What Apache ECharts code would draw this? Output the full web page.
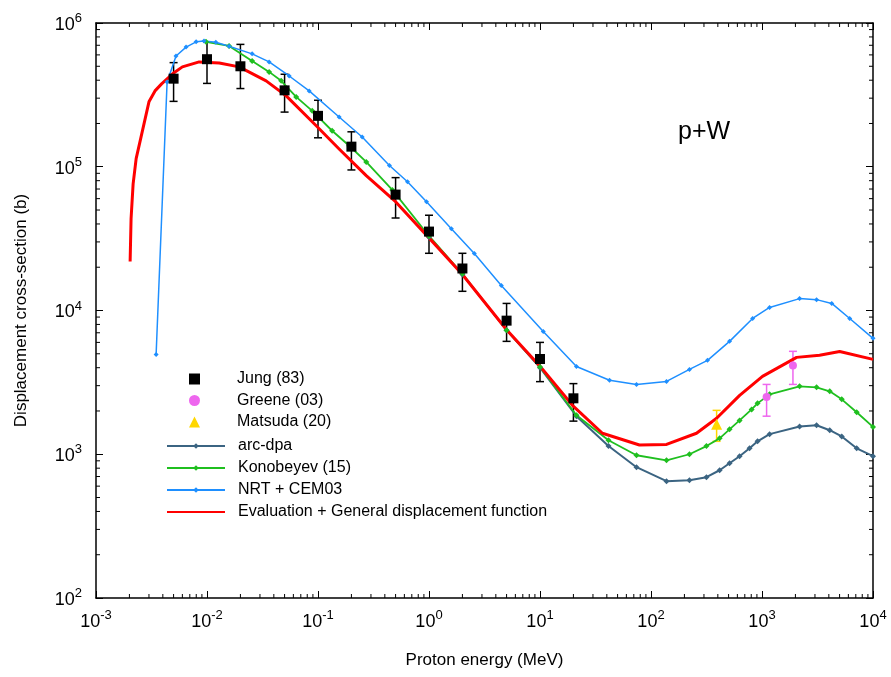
<!DOCTYPE html>
<html>
<head>
<meta charset="utf-8">
<script src="https://cdn.jsdelivr.net/npm/echarts@6/dist/echarts.min.js"></script>
<style>
  html, body { margin: 0; padding: 0; background: #fff; }
  #main { width: 891px; height: 677px; }
</style>
</head>
<body>
<div id="main"></div>
<script>
// Jung (83) measurements, with error bar limits
const jungE = [0.005, 0.01, 0.02, 0.05, 0.1, 0.2, 0.5, 1, 2, 5, 10, 20];
const jungV = [4.1e5, 5.6e5, 5.0e5, 3.4e5, 2.26e5, 1.38e5, 6.4e4, 3.54e4, 1.96e4, 8.5e3, 4.6e3, 2.45e3];
const jungLo = [2.85e5, 3.8e5, 3.5e5, 2.4e5, 1.59e5, 9.5e4, 4.4e4, 2.5e4, 1.36e4, 6.1e3, 3.2e3, 1.7e3];
const jungHi = [5.3e5, 7.4e5, 7.1e5, 4.4e5, 2.9e5, 1.75e5, 8.4e4, 4.6e4, 2.5e4, 1.12e4, 6.0e3, 3.1e3];

// Greene (03)
const greeneE = [1100, 1900];
const greeneV = [2.5e3, 4.15e3];
const greeneLo = [1.84e3, 3.06e3];
const greeneHi = [3.06e3, 5.2e3];

// Matsuda (20)
const matsudaE = [390];
const matsudaV = [1.62e3];
const matsudaLo = [1.23e3];
const matsudaHi = [2.02e3];

// arc-dpa
const arcE = [1, 2, 5, 10, 21.3, 41.4, 74, 138, 222, 316, 415, 510, 628, 773, 912, 1170, 2180, 3100, 4075, 5230, 7130, 10000];
const arcV = [3.25e4, 1.78e4, 7.3e3, 4.0e3, 1.84e3, 1.14e3, 813, 650, 660, 692, 774, 866, 969, 1100, 1230, 1380, 1560, 1590, 1470, 1330, 1100, 969];

// Konobeyev (15)
const konoE = [0.0098, 0.0158, 0.0255, 0.0363, 0.0466, 0.0636, 0.0887, 0.134, 0.191, 0.272,
  0.467, 1, 2, 5, 10, 21.3, 41.4, 74, 138, 222,
  316, 415, 510, 628, 806, 912, 1170, 2180, 3100, 4075,
  5230, 7130, 10000];
const konoV = [7.4e5, 6.92e5, 5.44e5, 4.57e5, 3.96e5, 3.06e5, 2.45e5, 1.78e5, 1.4e5, 1.08e5,
  6.9e4, 3.3e4, 1.8e4, 7.3e3, 4.05e3, 1.87e3, 1.25e3, 984, 908, 1000,
  1140, 1290, 1490, 1720, 2050, 2260, 2610, 2970, 2920, 2740,
  2410, 1960, 1550];

// NRT + CEM03
const nrtE = [0.00348, 0.00437, 0.00526, 0.00648, 0.00798, 0.0094, 0.012, 0.0158, 0.0255, 0.0363,
  0.055, 0.0833, 0.155, 0.25, 0.44, 0.64, 0.95, 1.59, 2.56, 4.48,
  10.7, 21.3, 42.3, 74, 138, 222, 323, 510, 823, 1170,
  2180, 3100, 4250, 6170, 10000];
const nrtV = [4940, 3.89e5, 5.9e5, 6.8e5, 7.4e5, 7.5e5, 7.35e5, 6.9e5, 6.1e5, 5.36e5,
  4.28e5, 3.37e5, 2.22e5, 1.61e5, 1.02e5, 7.87e4, 5.71e4, 3.71e4, 2.49e4, 1.49e4,
  7.15e3, 4.08e3, 3.27e3, 3.06e3, 3.21e3, 3.89e3, 4.5e3, 6.1e3, 8.8e3, 1.05e4,
  1.21e4, 1.19e4, 1.12e4, 8.8e3, 6.4e3];

// Evaluation + General displacement function
const evalE = [0.00203, 0.00207, 0.00216, 0.0023, 0.00255, 0.003, 0.0034, 0.0039, 0.0049, 0.006,
  0.0085, 0.0129, 0.0195, 0.0341, 0.0517, 0.0964, 0.155, 0.272, 0.5, 1,
  2, 5, 10, 19.6, 36.5, 78.7, 138, 257, 390, 629,
  1010, 2050, 3300, 5010, 10000];
const evalV = [2.19e4, 4.35e4, 7.6e4, 1.14e5, 1.62e5, 2.83e5, 3.37e5, 3.77e5, 4.43e5, 4.95e5,
  5.36e5, 5.27e5, 4.95e5, 3.96e5, 3.11e5, 1.93e5, 1.33e5, 8.67e4, 5.71e4, 3.2e4,
  1.78e4, 7.35e3, 4.1e3, 2.19e3, 1.4e3, 1.16e3, 1.17e3, 1.4e3, 1.78e3, 2.57e3,
  3.48e3, 4.72e3, 4.88e3, 5.19e3, 4.57e3];

const xDecades = [-3, -2, -1, 0, 1, 2, 3];
const yDecades = [2, 3, 4, 5];

const FONT = 'Liberation Sans, Arial, sans-serif';

function pairs(xs, ys) {
  return xs.map((x, i) => [x, ys[i]]);
}
function errs(xs, lo, hi) {
  return xs.map((x, i) => [x, lo[i], hi[i]]);
}

// minor tick positions (2..9 in each decade)
const minorData = [];
xDecades.forEach(k => {
  for (let m = 2; m <= 9; m++) minorData.push([m * Math.pow(10, k), 100, 0]);
});
yDecades.forEach(k => {
  for (let m = 2; m <= 9; m++) minorData.push([1e-3, m * Math.pow(10, k), 1]);
});

function renderMinor(params, api) {
  const cs = params.coordSys;
  const p = api.coord([api.value(0), api.value(1)]);
  const st = { stroke: '#000', lineWidth: 1 };
  const len = 4;
  if (api.value(2) === 0) {
    const b = cs.y + cs.height;
    return { type: 'group', children: [
      { type: 'line', shape: { x1: p[0], y1: b, x2: p[0], y2: b - len }, style: st },
      { type: 'line', shape: { x1: p[0], y1: cs.y, x2: p[0], y2: cs.y + len }, style: st }
    ] };
  }
  const r = cs.x + cs.width;
  return { type: 'group', children: [
    { type: 'line', shape: { x1: cs.x, y1: p[1], x2: cs.x + len, y2: p[1] }, style: st },
    { type: 'line', shape: { x1: r, y1: p[1], x2: r - len, y2: p[1] }, style: st }
  ] };
}

function renderErr(params, api) {
  const x = api.value(0);
  const lo = api.coord([x, api.value(1)]);
  const hi = api.coord([x, api.value(2)]);
  const w = 4;
  const st = { stroke: api.visual('color'), lineWidth: 1.5 };
  return { type: 'group', children: [
    { type: 'line', shape: { x1: lo[0], y1: lo[1], x2: hi[0], y2: hi[1] }, style: st },
    { type: 'line', shape: { x1: lo[0] - w, y1: lo[1], x2: lo[0] + w, y2: lo[1] }, style: st },
    { type: 'line', shape: { x1: hi[0] - w, y1: hi[1], x2: hi[0] + w, y2: hi[1] }, style: st }
  ] };
}

function powLabel(v) {
  return '{b|10}{s|' + Math.round(Math.log10(v)) + '}';
}
const labelRich = {
  b: { fontSize: 18, fontFamily: FONT, color: '#000', verticalAlign: 'bottom' },
  s: { fontSize: 13, fontFamily: FONT, color: '#000', verticalAlign: 'top', padding: [0, 0, 9, 0] }
};

const axisLine = { show: true, lineStyle: { color: '#000', width: 1.5 } };
const axisTick = { show: true, inside: true, length: 7, lineStyle: { color: '#000', width: 1 } };

const chart = echarts.init(document.getElementById('main'));
const option = {
  animation: false,
  backgroundColor: '#fff',
  grid: { left: 96, right: 18, top: 23, bottom: 79 },
  xAxis: [{
    type: 'log', logBase: 10, min: 1e-3, max: 1e4, splitNumber: 7,
    name: 'Proton energy (MeV)', nameLocation: 'middle', nameGap: 54,
    nameTextStyle: { fontSize: 17, fontFamily: FONT, color: '#000' },
    axisLine, axisTick,
    axisLabel: { margin: 11, formatter: powLabel, rich: labelRich },
    splitLine: { show: false }
  }, {
    type: 'log', logBase: 10, min: 1e-3, max: 1e4, splitNumber: 7, position: 'top',
    axisLine, axisTick, axisLabel: { show: false }, splitLine: { show: false }
  }],
  yAxis: [{
    type: 'log', logBase: 10, min: 1e2, max: 1e6, splitNumber: 4,
    name: 'Displacement cross-section (b)', nameLocation: 'middle', nameGap: 66,
    nameTextStyle: { fontSize: 17, fontFamily: FONT, color: '#000' },
    axisLine, axisTick,
    axisLabel: { margin: 14, formatter: powLabel, rich: labelRich },
    splitLine: { show: false }
  }, {
    type: 'log', logBase: 10, min: 1e2, max: 1e6, splitNumber: 4, position: 'right',
    axisLine, axisTick, axisLabel: { show: false }, splitLine: { show: false }
  }],
  legend: [{
    orient: 'vertical', left: 189, top: 371, padding: 0,
    itemWidth: 11, itemHeight: 11, itemGap: 5.5,
    textStyle: { fontSize: 16, fontFamily: FONT, color: '#000', padding: [0, 0, 0, 32] },
    data: [
      { name: 'Jung (83)', icon: 'rect' },
      { name: 'Greene (03)', icon: 'circle' },
      { name: 'Matsuda (20)', icon: 'triangle' }
    ]
  }, {
    orient: 'vertical', left: 166, top: 438, padding: 0,
    itemWidth: 58, itemHeight: 7, itemGap: 6,
    textStyle: { fontSize: 16, fontFamily: FONT, color: '#000', padding: [0, 0, 0, 8] },
    data: [
      'arc-dpa', 'Konobeyev (15)', 'NRT + CEM03',
      { name: 'Evaluation + General displacement function', itemStyle: { opacity: 0 } }
    ]
  }],
  graphic: [{
    type: 'text', left: 678, top: 120,
    style: { text: 'p+W', font: '25px ' + FONT, fill: '#000' }
  }],
  series: [
    {
      name: 'minor ticks', type: 'custom', renderItem: renderMinor, silent: true,
      data: minorData, encode: { x: 0, y: 1 }, z: 10
    },
    {
      name: 'arc-dpa', type: 'line', data: pairs(arcE, arcV),
      color: '#3b6482', symbol: 'diamond', symbolSize: 6, showAllSymbol: true,
      lineStyle: { width: 2 }
    },
    {
      name: 'Konobeyev (15)', type: 'line', data: pairs(konoE, konoV),
      color: '#1fbf1f', symbol: 'diamond', symbolSize: 6, showAllSymbol: true,
      lineStyle: { width: 1.8 }
    },
    {
      name: 'NRT + CEM03', type: 'line', data: pairs(nrtE, nrtV),
      color: '#1e8fff', symbol: 'diamond', symbolSize: 5, showAllSymbol: true,
      lineStyle: { width: 1.5 }
    },
    {
      name: 'Evaluation + General displacement function', type: 'line', data: pairs(evalE, evalV),
      color: '#ff0000', symbol: 'none',
      lineStyle: { width: 3, join: 'round' }
    },
    {
      name: 'Jung err', type: 'custom', renderItem: renderErr, color: '#000',
      data: errs(jungE, jungLo, jungHi), encode: { x: 0, y: [1, 2] }, z: 3
    },
    {
      name: 'Greene err', type: 'custom', renderItem: renderErr, color: '#ee66ee',
      data: errs(greeneE, greeneLo, greeneHi), encode: { x: 0, y: [1, 2] }, z: 3
    },
    {
      name: 'Matsuda err', type: 'custom', renderItem: renderErr, color: '#ffd700',
      data: errs(matsudaE, matsudaLo, matsudaHi), encode: { x: 0, y: [1, 2] }, z: 3
    },
    {
      name: 'Jung (83)', type: 'scatter', data: pairs(jungE, jungV),
      color: '#000', symbol: 'rect', symbolSize: 10, itemStyle: { opacity: 1 }, z: 4
    },
    {
      name: 'Greene (03)', type: 'scatter', data: pairs(greeneE, greeneV),
      color: '#ee66ee', symbol: 'circle', symbolSize: 8, itemStyle: { opacity: 1 }, z: 4
    },
    {
      name: 'Matsuda (20)', type: 'scatter', data: pairs(matsudaE, matsudaV),
      color: '#ffd700', symbol: 'triangle', symbolSize: 11, itemStyle: { opacity: 1 }, z: 4
    }
  ]
};
chart.setOption(option);
</script>
</body>
</html>
